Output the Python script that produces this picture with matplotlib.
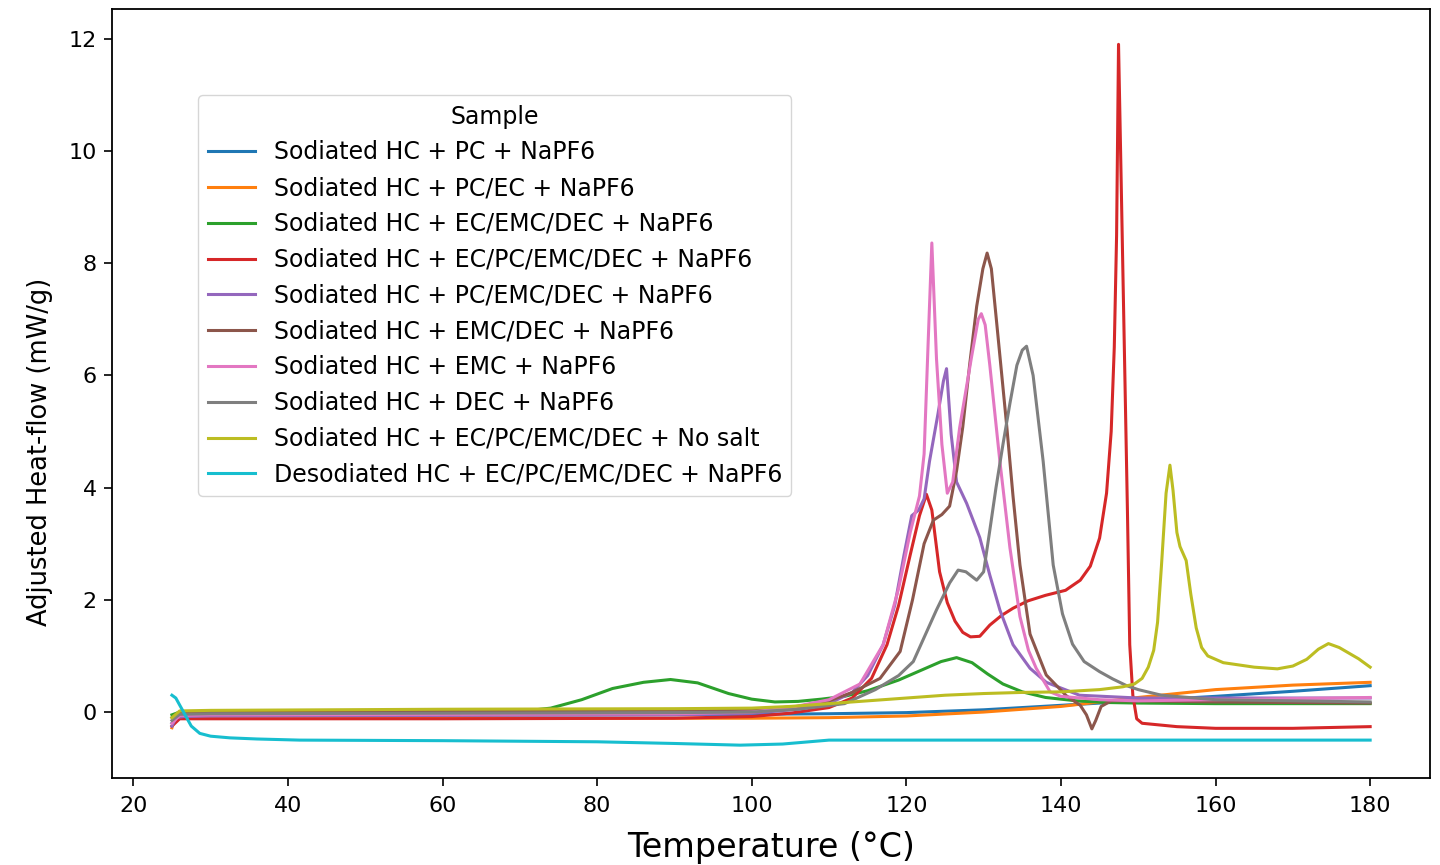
import numpy as np
import matplotlib
matplotlib.use("Agg")
import matplotlib.pyplot as plt
from matplotlib import font_manager

# DSC traces (temperature in C, heat-flow in mW/g)
labels = [
    "Sodiated HC + PC + NaPF6",
    "Sodiated HC + PC/EC + NaPF6",
    "Sodiated HC + EC/EMC/DEC + NaPF6",
    "Sodiated HC + EC/PC/EMC/DEC + NaPF6",
    "Sodiated HC + PC/EMC/DEC + NaPF6",
    "Sodiated HC + EMC/DEC + NaPF6",
    "Sodiated HC + EMC + NaPF6",
    "Sodiated HC + DEC + NaPF6",
    "Sodiated HC + EC/PC/EMC/DEC + No salt",
    "Desodiated HC + EC/PC/EMC/DEC + NaPF6",
]

pc_x = [25, 26, 30, 40, 60, 80, 100, 110, 120, 130, 140, 150, 160, 170, 180]
pc_y = [-0.2, -0.08, -0.06, -0.06, -0.05, -0.05, -0.04, -0.03, -0.01, 0.04, 0.12, 0.2, 0.28, 0.37, 0.47]

pcec_x = [25, 25.5, 26.5, 30, 40, 60, 80, 100, 110, 120, 130, 140, 150, 160, 170, 180]
pcec_y = [-0.28, -0.05, -0.1, -0.1, -0.1, -0.1, -0.11, -0.11, -0.1, -0.07, 0.0, 0.1, 0.26, 0.4, 0.48, 0.53]

ecemcdec_x = [25, 26, 30, 50, 70, 74, 78, 82, 86, 89.5, 93, 97, 100, 103, 106, 109, 112, 115, 119, 122, 124.5,
              126.5, 128.5, 130.5, 132.5, 135, 138, 142, 146, 150, 160, 170, 180]
ecemcdec_y = [-0.05, 0.0, 0.0, 0.0, 0.01, 0.07, 0.22, 0.42, 0.53, 0.58, 0.52, 0.33, 0.23, 0.18, 0.19, 0.23, 0.28, 0.38,
              0.57, 0.75, 0.9, 0.97, 0.88, 0.68, 0.5, 0.36, 0.26, 0.2, 0.17, 0.16, 0.15, 0.15, 0.15]

ecpc_x = [25, 26, 30, 60, 90, 100, 105, 110, 113, 115.5, 117.5, 119, 120.5, 121.7, 122.6, 123.3, 124.3, 125.3,
          126.3, 127.3, 128.3, 129.5, 130.8, 132.3, 133.8, 135.7, 138, 140.6, 142.5, 143.8, 145, 145.9, 146.5,
          146.9, 147.2, 147.45, 147.8, 148.2, 148.6, 148.9, 149.3, 149.8, 150.5, 155, 160, 170, 180]
ecpc_y = [-0.25, -0.12, -0.12, -0.12, -0.11, -0.08, -0.02, 0.08, 0.25, 0.6, 1.2, 1.9, 2.8, 3.5, 3.88, 3.6, 2.5, 1.95,
          1.62, 1.42, 1.34, 1.35, 1.55, 1.72, 1.85, 1.98, 2.08, 2.17, 2.35, 2.6, 3.1, 3.9, 5.0, 6.5, 8.5, 11.9,
          9.4, 6.5, 3.6, 1.2, 0.3, -0.12, -0.2, -0.26, -0.29, -0.29, -0.26]

pcemcdec_x = [25, 25.5, 26.5, 30, 60, 90, 100, 106, 110, 113, 115, 117, 118.5, 119.7, 120.7, 121.6, 122.3, 123, 124.1,
              124.8, 125.2, 125.8, 126.5, 127.8, 129.5, 130.8, 132.1, 133.8, 136, 138.1, 142.4, 150, 160, 170, 180]
pcemcdec_y = [-0.25, -0.1, -0.08, -0.07, -0.06, -0.05, -0.02, 0.05, 0.15, 0.35, 0.65, 1.2, 1.9, 2.8, 3.5, 3.6,
              3.8, 4.47, 5.32, 5.9, 6.12, 4.95, 4.1, 3.72, 3.11, 2.44, 1.82, 1.2, 0.78, 0.53, 0.3, 0.25, 0.25, 0.25, 0.25]

emcdec_x = [25, 26, 30, 60, 90, 100, 106, 110, 113, 116.6, 119.2, 120.8, 122.3, 123.5, 124.6, 125.6, 126.5, 127.3,
            128.2, 129.1, 129.9, 130.45, 131, 131.7, 133, 133.8, 134.7, 136, 138.1, 140.7, 142.5, 143.3, 144,
            144.5, 145.2, 146.5, 150, 160, 170, 180]
emcdec_y = [-0.1, 0.0, 0.0, 0.02, 0.03, 0.04, 0.1, 0.2, 0.35, 0.6, 1.08, 2.0, 3.0, 3.42, 3.52, 3.67, 4.3, 5.08,
            6.2, 7.23, 7.9, 8.18, 7.9, 6.92, 5.08, 3.85, 2.62, 1.39, 0.66, 0.29, 0.12, -0.05, -0.3, -0.15, 0.1, 0.2,
            0.2, 0.18, 0.17, 0.16]

emc_x = [25, 26, 30, 60, 90, 100, 105, 110, 114, 117, 119, 120.5, 121.7, 122.3, 122.8, 123.3, 123.9, 124.6, 125.3,
         126, 126.9, 128.4, 129.3, 129.7, 130.2, 130.8, 132.1, 133.4, 134.7, 135.8, 136.8, 138.6, 140, 145, 150,
         160, 170, 180]
emc_y = [-0.2, -0.06, -0.05, -0.04, -0.03, 0.0, 0.08, 0.22, 0.5, 1.2, 2.2, 3.2, 3.85, 4.6, 6.5, 8.36, 6.3, 4.77,
         3.9, 4.1, 5.07, 6.3, 7.0, 7.1, 6.9, 6.18, 4.47, 2.93, 1.7, 1.1, 0.78, 0.36, 0.28, 0.22, 0.2, 0.22, 0.24, 0.26]

dec_x = [25, 26, 30, 60, 90, 100, 106, 112, 116, 119, 120.9, 123.9, 125.6, 126.7, 127.7, 129.1, 130, 130.8, 131.6,
         132.5, 133.4, 134.3, 135, 135.55, 136.4, 137.7, 139, 140.2, 141.5, 143, 145, 146.7, 148.5, 150, 153,
         160, 170, 180]
dec_y = [-0.15, -0.04, -0.03, -0.02, -0.01, 0.0, 0.05, 0.15, 0.4, 0.65, 0.9, 1.82, 2.3, 2.53, 2.5, 2.35, 2.5,
         3.24, 4.0, 4.77, 5.5, 6.18, 6.45, 6.52, 6.0, 4.47, 2.62, 1.75, 1.21, 0.9, 0.72, 0.59, 0.47, 0.4, 0.3,
         0.22, 0.2, 0.18]

nosalt_x = [25, 26, 30, 60, 90, 100, 105, 110, 115, 120, 125, 130, 135, 140, 145, 148, 149.5, 150.5, 151.3, 152,
            152.5, 153, 153.6, 154.1, 154.5, 155, 155.4, 156.2, 156.8, 157.5, 158.2, 159, 161, 165, 168, 170,
            171.8, 173.3, 174.6, 176, 177, 178.5, 180]
nosalt_y = [-0.1, 0.02, 0.03, 0.05, 0.06, 0.07, 0.1, 0.15, 0.2, 0.25, 0.3, 0.33, 0.35, 0.36, 0.4, 0.45, 0.5, 0.6,
            0.8, 1.1, 1.6, 2.6, 3.9, 4.4, 3.95, 3.2, 2.95, 2.7, 2.1, 1.5, 1.15, 1.0, 0.88, 0.8, 0.77, 0.82, 0.94,
            1.12, 1.22, 1.15, 1.07, 0.95, 0.8]

desod_x = [25, 25.5, 26.5, 27.5, 28.6, 30, 32.5, 36, 41.5, 60, 80, 90, 98.5, 104, 110, 120, 140, 160, 180]
desod_y = [0.3, 0.25, 0.0, -0.25, -0.38, -0.43, -0.46, -0.48, -0.5, -0.51, -0.53, -0.56, -0.59, -0.57, -0.5,
           -0.5, -0.5, -0.5, -0.5]

series = [
    (pc_x, pc_y), (pcec_x, pcec_y), (ecemcdec_x, ecemcdec_y), (ecpc_x, ecpc_y), (pcemcdec_x, pcemcdec_y),
    (emcdec_x, emcdec_y), (emc_x, emc_y), (dec_x, dec_y), (nosalt_x, nosalt_y), (desod_x, desod_y),
]

# narrow face for the y label if one is installed, else shrink the default one
installed = {f.name for f in font_manager.fontManager.ttflist}
narrow = [n for n in ["DejaVu Sans Condensed", "Liberation Sans Narrow"] if n in installed]
if narrow:
    ylab_font = dict(family=[narrow[0], "DejaVu Sans"], fontsize=23)
else:
    ylab_font = dict(family=["DejaVu Sans"], fontsize=18.5)

fig = plt.figure(figsize=(14.4, 8.65), dpi=100)
ax = fig.add_axes([0.0778, 0.1006, 0.9153, 0.889])

for (xs, ys), lab in zip(series, labels):
    ax.plot(xs, ys, lw=2.2, label=lab)

ax.set_xlim(17.25, 187.75)
ax.set_ylim(-1.175, 12.53)
ax.set_xticks(np.arange(20, 181, 20))
ax.set_yticks(np.arange(0, 13, 2))
ax.tick_params(labelsize=16, length=6, width=1.2, pad=5)
ax.tick_params(axis="x", pad=7)
for s in ax.spines.values():
    s.set_linewidth(1.3)

ax.set_xlabel("Temperature (°C)", fontsize=24, labelpad=11)
ax.set_ylabel("Adjusted Heat-flow (mW/g)", **ylab_font)
ax.yaxis.set_label_coords(-0.045, 0.424)

leg = ax.legend(title="Sample", loc="upper left", bbox_to_anchor=(0.0653, 0.888), borderaxespad=0,
                fontsize=17, title_fontsize=17)

fig.savefig("out.png", dpi=100)
